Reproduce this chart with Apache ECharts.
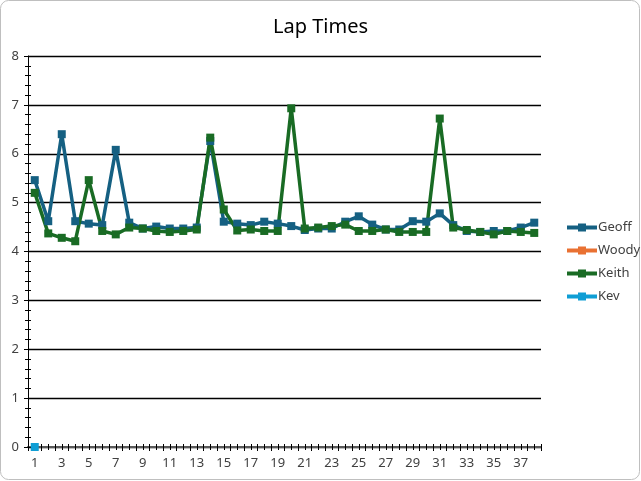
<!DOCTYPE html>
<html>
<head>
<meta charset="utf-8">
<script src="https://cdn.jsdelivr.net/npm/echarts@6/dist/echarts.min.js"></script>
<style>
html,body{margin:0;padding:0;background:#fff;}
#c{width:641px;height:481px;}
</style>
</head>
<body>
<div id="c"></div>
<script>
const laps = Array.from({length: 38}, (_, i) => String(i + 1));
const geoff = [5.46,4.62,6.40,4.62,4.57,4.54,6.08,4.59,4.47,4.51,4.47,4.47,4.49,6.26,4.61,4.57,4.54,4.61,4.57,4.52,4.44,4.47,4.47,4.61,4.72,4.55,4.45,4.45,4.62,4.61,4.78,4.54,4.42,4.40,4.42,4.42,4.49,4.59];
const woody = [];
const keith = [5.20,4.37,4.28,4.21,5.46,4.42,4.35,4.49,4.47,4.42,4.40,4.42,4.45,6.33,4.86,4.43,4.45,4.42,4.42,6.93,4.47,4.49,4.52,4.55,4.42,4.42,4.45,4.40,4.40,4.40,6.72,4.49,4.44,4.40,4.35,4.42,4.40,4.38];
const kev = [0];
const yTicks = [0,1,2,3,4,5,6,7,8];

const font = 'Noto Sans';
const chart = echarts.init(document.getElementById('c'));
function ser(name, data, color) {
  return {
    name, type: 'line', data, xAxisIndex: 0, yAxisIndex: 0,
    symbol: 'rect', symbolSize: 8, showSymbol: true,
    lineStyle: {width: 3.5, color}, itemStyle: {color},
    emphasis: {disabled: true}, animation: false
  };
}
chart.setOption({
  animation: false,
  backgroundColor: '#fff',
  title: {
    text: 'Lap Times', left: 'center', top: 12,
    textStyle: {fontFamily: font, fontSize: 20, fontWeight: 'normal', color: '#000'}
  },
  graphic: [{
    type: 'rect', silent: true,
    shape: {x: 0.5, y: 0.5, width: 639, height: 479, r: 8},
    style: {fill: 'none', stroke: '#bfbfbf', lineWidth: 1}
  }],
  legend: {
    orient: 'vertical', left: 560, top: 216,
    itemWidth: 30, itemHeight: 10, itemGap: 10,
    lineStyle: {width: 4},
    textStyle: {fontFamily: font, fontSize: 13, color: '#404040', padding: [0,0,0,-4]},
    data: ['Geoff','Woody','Keith','Kev']
  },
  grid: {left: 28, right: 100, top: 56, bottom: 34},
  xAxis: [{
    type: 'category', data: laps, boundaryGap: true,
    axisLine: {lineStyle: {color: '#595959', width: 2}},
    axisTick: {show: true, interval: 0, length: 4, inside: false, lineStyle: {color: '#000'}},
    axisLabel: {interval: 1, fontFamily: font, fontSize: 13, color: '#404040', margin: 10},
    splitLine: {show: false}
  }, {
    type: 'category', data: laps, boundaryGap: true, position: 'bottom',
    axisLine: {show: false},
    axisTick: {show: true, interval: 0, length: 3, inside: true, lineStyle: {color: '#000'}},
    axisLabel: {show: false}, splitLine: {show: false}
  }, {
    type: 'category', data: laps, boundaryGap: true, position: 'bottom',
    axisLine: {show: false},
    axisTick: {show: true, interval: 0, alignWithLabel: true, length: 3, inside: true, lineStyle: {color: '#000'}},
    axisLabel: {show: false}, splitLine: {show: false}
  }, {
    type: 'category', data: laps, boundaryGap: true, position: 'bottom',
    axisLine: {show: false},
    axisTick: {show: true, interval: 0, alignWithLabel: true, length: 3, inside: false, lineStyle: {color: '#000'}},
    axisLabel: {show: false}, splitLine: {show: false}
  }],
  yAxis: [{
    type: 'value', min: yTicks[0], max: yTicks[yTicks.length - 1], interval: 1,
    axisLine: {show: true, lineStyle: {color: '#000', width: 1}},
    axisTick: {show: true, length: 4, lineStyle: {color: '#000'}},
    minorTick: {show: true, splitNumber: 5, length: 3, lineStyle: {color: '#000'}},
    axisLabel: {fontFamily: font, fontSize: 13, color: '#404040', margin: 9},
    splitLine: {show: true, lineStyle: {color: '#000', width: 1.3}}
  }, {
    type: 'value', min: yTicks[0], max: yTicks[yTicks.length - 1], interval: 1, position: 'left',
    axisLine: {show: false},
    axisTick: {show: true, inside: true, length: 3, lineStyle: {color: '#000'}},
    minorTick: {show: true, splitNumber: 5, length: 3, lineStyle: {color: '#000'}},
    axisLabel: {show: false}, splitLine: {show: false}
  }],
  series: [
    ser('Geoff', geoff, '#156082'),
    ser('Woody', woody, '#E97132'),
    ser('Keith', keith, '#196B24'),
    ser('Kev', kev, '#0F9ED5')
  ]
});
</script>
</body>
</html>
